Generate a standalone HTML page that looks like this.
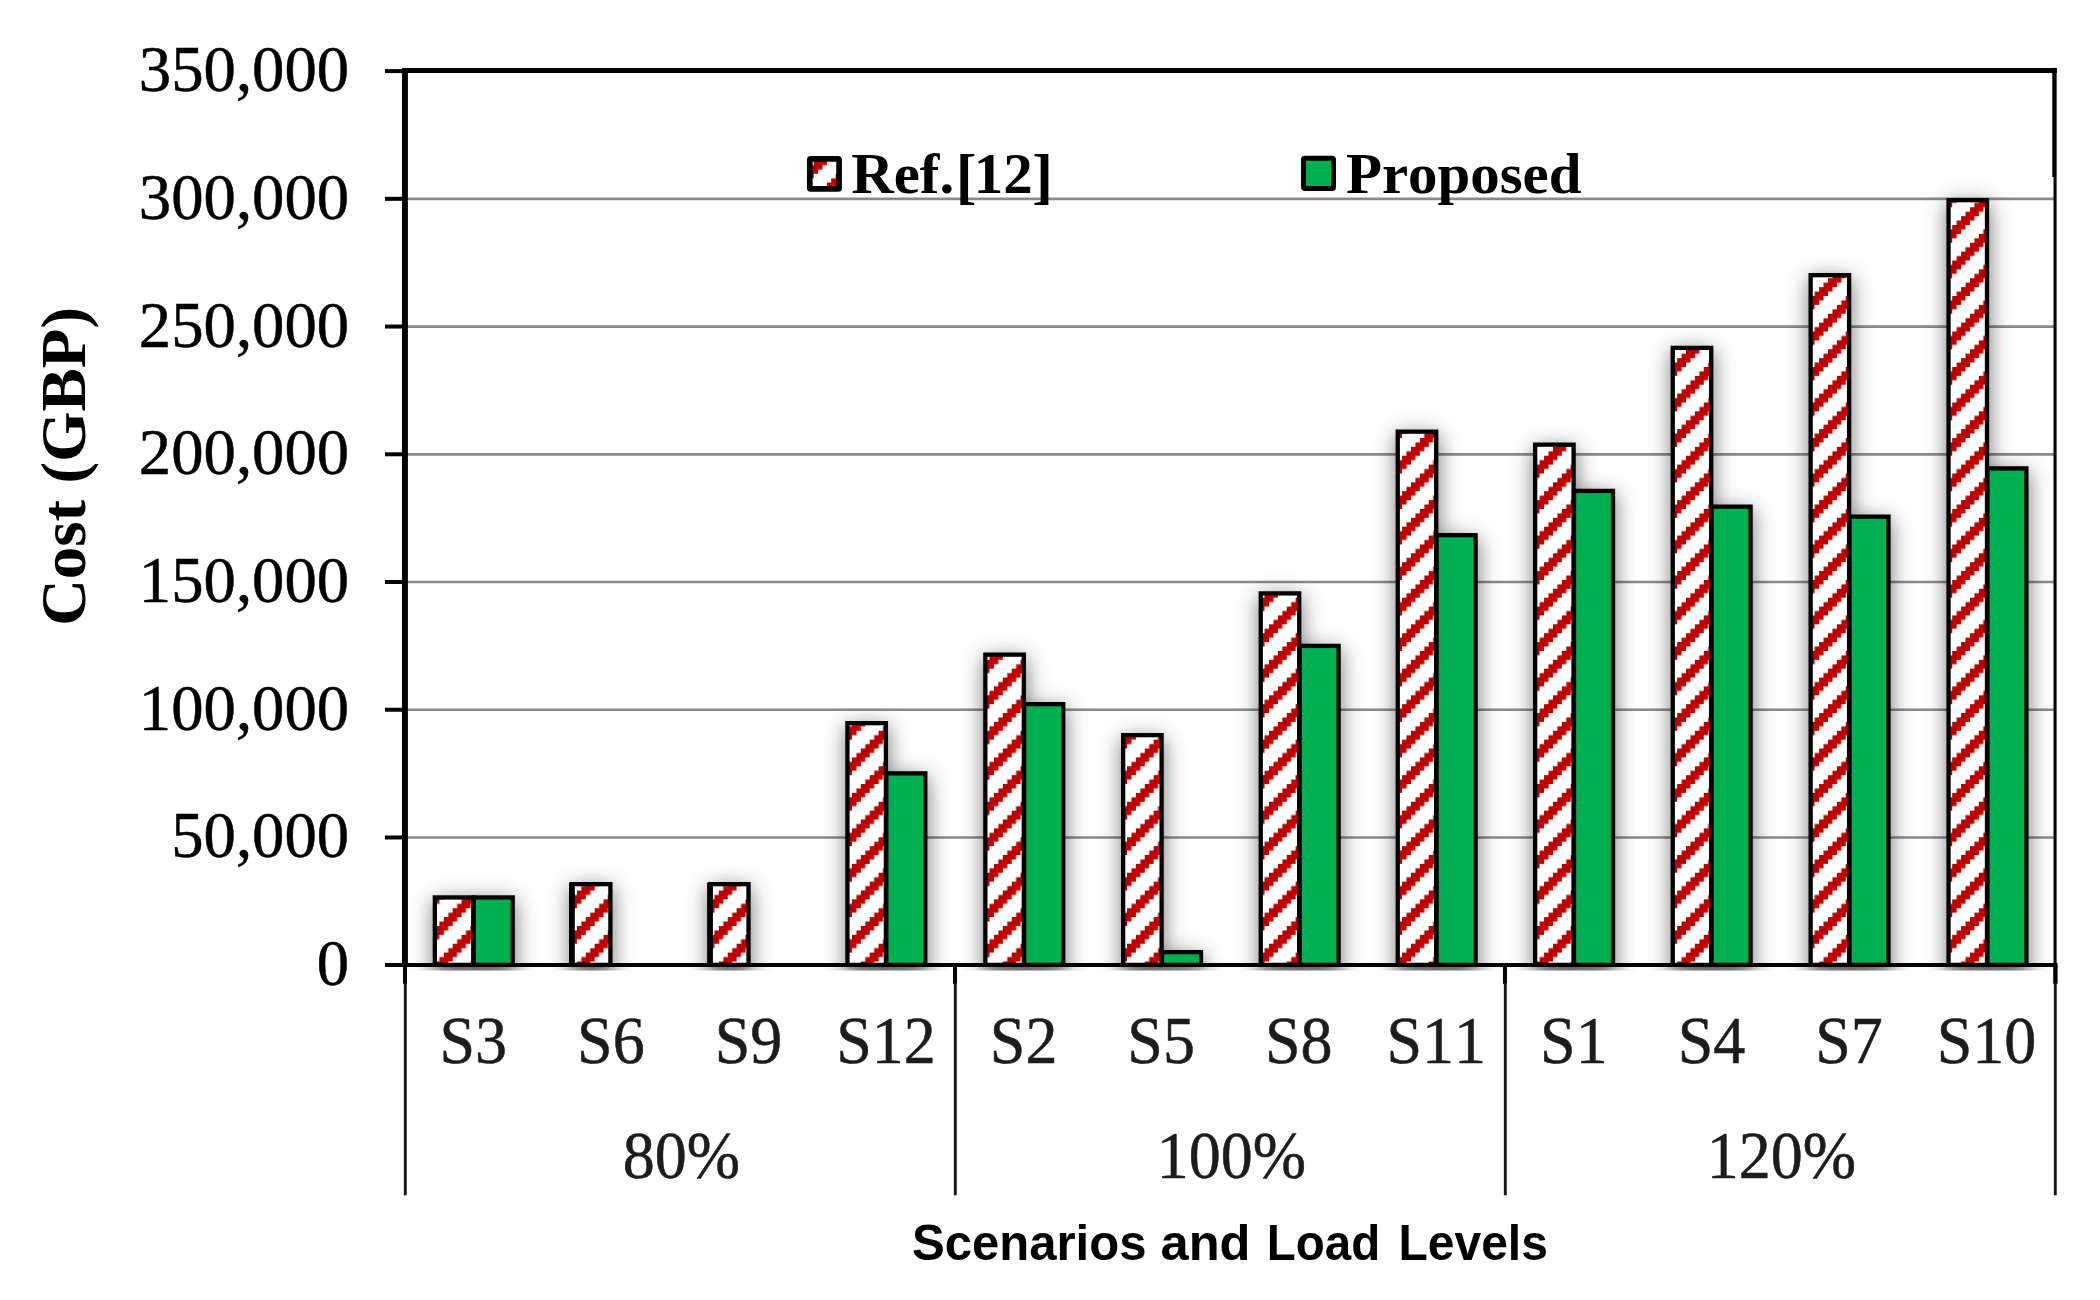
<!DOCTYPE html>
<html lang="en"><head><meta charset="utf-8"><title>Cost (GBP) by Scenarios and Load Levels</title>
<style>html,body{margin:0;padding:0;background:#fff}body{width:2100px;height:1300px;overflow:hidden}svg{display:block}text{font-family:"Liberation Serif","DejaVu Serif",serif;fill:#000;font-kerning:none}.ax{font-size:64px;stroke:#000;stroke-width:.5px}.cat{font-size:64px;fill:#1c1c1c;stroke:#1c1c1c;stroke-width:.5px}.lg{font-size:58px;font-weight:bold}.br{font-size:61.3px}.yt{font-size:64px;font-weight:bold}.xt{font-family:"Liberation Sans","DejaVu Sans",sans-serif;font-weight:bold;font-size:50px}</style></head><body>
<svg width="2100" height="1300" viewBox="0 0 2100 1300">
<defs>
<pattern id="hatch" patternUnits="userSpaceOnUse" x="0.150" y="3.200" width="35.492" height="35.492">
<rect x="0" y="0" width="35.492" height="35.492" fill="#fff"/>
<g fill="#c00000"><polygon points="-26.619,0.000 -26.619,4.436 -31.055,4.436 -31.055,8.873 -35.492,8.873 -35.492,13.309 -39.928,13.309 -39.928,17.746 -44.365,17.746 -44.365,22.182 -48.801,22.182 -48.801,26.619 -53.238,26.619 -53.238,31.055 -57.674,31.055 -57.674,35.492 -44.365,35.492 -44.365,31.055 -39.928,31.055 -39.928,26.619 -35.492,26.619 -35.492,22.182 -31.055,22.182 -31.055,17.746 -26.619,17.746 -26.619,13.309 -22.182,13.309 -22.182,8.873 -17.746,8.873 -17.746,4.436 -13.309,4.436 -13.309,0.000"/><polygon points="8.873,0.000 8.873,4.436 4.436,4.436 4.436,8.873 0.000,8.873 0.000,13.309 -4.436,13.309 -4.436,17.746 -8.873,17.746 -8.873,22.182 -13.309,22.182 -13.309,26.619 -17.746,26.619 -17.746,31.055 -22.182,31.055 -22.182,35.492 -8.873,35.492 -8.873,31.055 -4.436,31.055 -4.436,26.619 0.000,26.619 0.000,22.182 4.437,22.182 4.437,17.746 8.873,17.746 8.873,13.309 13.309,13.309 13.309,8.873 17.746,8.873 17.746,4.436 22.182,4.436 22.182,0.000"/><polygon points="44.365,0.000 44.365,4.436 39.928,4.436 39.928,8.873 35.492,8.873 35.492,13.309 31.055,13.309 31.055,17.746 26.619,17.746 26.619,22.182 22.182,22.182 22.182,26.619 17.746,26.619 17.746,31.055 13.309,31.055 13.309,35.492 26.619,35.492 26.619,31.055 31.055,31.055 31.055,26.619 35.492,26.619 35.492,22.182 39.928,22.182 39.928,17.746 44.365,17.746 44.365,13.309 48.801,13.309 48.801,8.873 53.238,8.873 53.238,4.436 57.674,4.436 57.674,0.000"/><polygon points="79.857,0.000 79.857,4.436 75.420,4.436 75.420,8.873 70.984,8.873 70.984,13.309 66.547,13.309 66.547,17.746 62.111,17.746 62.111,22.182 57.674,22.182 57.674,26.619 53.238,26.619 53.238,31.055 48.801,31.055 48.801,35.492 62.111,35.492 62.111,31.055 66.547,31.055 66.547,26.619 70.984,26.619 70.984,22.182 75.421,22.182 75.421,17.746 79.857,17.746 79.857,13.309 84.293,13.309 84.293,8.873 88.730,8.873 88.730,4.436 93.166,4.436 93.166,0.000"/></g>
</pattern>
<pattern id="hatchL" patternUnits="userSpaceOnUse" x="0.000" y="-1.200" width="35.000" height="35.000">
<rect x="0" y="0" width="35.000" height="35.000" fill="#fff"/>
<g fill="#c00000"><polygon points="-4.375,0.000 -4.375,4.375 -8.750,4.375 -8.750,8.750 -13.125,8.750 -13.125,13.125 -17.500,13.125 -17.500,17.500 -21.875,17.500 -21.875,21.875 -26.250,21.875 -26.250,26.250 -30.625,26.250 -30.625,30.625 -35.000,30.625 -35.000,35.000 -21.875,35.000 -21.875,30.625 -17.500,30.625 -17.500,26.250 -13.125,26.250 -13.125,21.875 -8.750,21.875 -8.750,17.500 -4.375,17.500 -4.375,13.125 0.000,13.125 0.000,8.750 4.375,8.750 4.375,4.375 8.750,4.375 8.750,0.000"/><polygon points="30.625,0.000 30.625,4.375 26.250,4.375 26.250,8.750 21.875,8.750 21.875,13.125 17.500,13.125 17.500,17.500 13.125,17.500 13.125,21.875 8.750,21.875 8.750,26.250 4.375,26.250 4.375,30.625 0.000,30.625 0.000,35.000 13.125,35.000 13.125,30.625 17.500,30.625 17.500,26.250 21.875,26.250 21.875,21.875 26.250,21.875 26.250,17.500 30.625,17.500 30.625,13.125 35.000,13.125 35.000,8.750 39.375,8.750 39.375,4.375 43.750,4.375 43.750,0.000"/><polygon points="65.625,0.000 65.625,4.375 61.250,4.375 61.250,8.750 56.875,8.750 56.875,13.125 52.500,13.125 52.500,17.500 48.125,17.500 48.125,21.875 43.750,21.875 43.750,26.250 39.375,26.250 39.375,30.625 35.000,30.625 35.000,35.000 48.125,35.000 48.125,30.625 52.500,30.625 52.500,26.250 56.875,26.250 56.875,21.875 61.250,21.875 61.250,17.500 65.625,17.500 65.625,13.125 70.000,13.125 70.000,8.750 74.375,8.750 74.375,4.375 78.750,4.375 78.750,0.000"/><polygon points="100.625,0.000 100.625,4.375 96.250,4.375 96.250,8.750 91.875,8.750 91.875,13.125 87.500,13.125 87.500,17.500 83.125,17.500 83.125,21.875 78.750,21.875 78.750,26.250 74.375,26.250 74.375,30.625 70.000,30.625 70.000,35.000 83.125,35.000 83.125,30.625 87.500,30.625 87.500,26.250 91.875,26.250 91.875,21.875 96.250,21.875 96.250,17.500 100.625,17.500 100.625,13.125 105.000,13.125 105.000,8.750 109.375,8.750 109.375,4.375 113.750,4.375 113.750,0.000"/></g>
</pattern>
<filter id="sh" x="-50%" y="-10%" width="200%" height="120%" filterUnits="objectBoundingBox" color-interpolation-filters="sRGB"><feGaussianBlur stdDeviation="10.5"/></filter>
<clipPath id="plotclip"><rect x="404.5" y="70.4" width="1650.0" height="900.2"/></clipPath>
</defs>
<rect width="2100" height="1300" fill="#fff"/>
<g stroke="#8a8a8a" stroke-width="2.6">
<line x1="404.5" y1="837.52" x2="2054.5" y2="837.52"/>
<line x1="404.5" y1="709.79" x2="2054.5" y2="709.79"/>
<line x1="404.5" y1="582.06" x2="2054.5" y2="582.06"/>
<line x1="404.5" y1="454.33" x2="2054.5" y2="454.33"/>
<line x1="404.5" y1="326.60" x2="2054.5" y2="326.60"/>
<line x1="404.5" y1="198.87" x2="2054.5" y2="198.87"/>
</g>
<g clip-path="url(#plotclip)"><g filter="url(#sh)" fill="#000" fill-opacity="0.53" transform="translate(0.5,5)">
<rect x="432.70" y="895.30" width="42.75" height="109.60"/>
<rect x="471.55" y="895.30" width="43.30" height="109.60"/>
<rect x="569.80" y="882.00" width="42.75" height="122.90"/>
<rect x="707.90" y="882.00" width="42.75" height="122.90"/>
<rect x="845.30" y="721.00" width="42.75" height="283.90"/>
<rect x="884.15" y="771.20" width="43.30" height="233.70"/>
<rect x="983.20" y="652.50" width="42.75" height="352.40"/>
<rect x="1022.05" y="702.00" width="43.30" height="302.90"/>
<rect x="1121.00" y="733.00" width="42.75" height="271.90"/>
<rect x="1159.85" y="950.00" width="43.30" height="54.90"/>
<rect x="1258.60" y="591.25" width="42.75" height="413.65"/>
<rect x="1297.45" y="643.75" width="43.30" height="361.15"/>
<rect x="1395.60" y="429.50" width="42.75" height="575.40"/>
<rect x="1434.45" y="533.00" width="43.30" height="471.90"/>
<rect x="1533.00" y="442.50" width="42.75" height="562.40"/>
<rect x="1571.85" y="488.75" width="43.30" height="516.15"/>
<rect x="1670.60" y="345.75" width="42.75" height="659.15"/>
<rect x="1709.45" y="504.50" width="43.30" height="500.40"/>
<rect x="1808.50" y="273.00" width="42.75" height="731.90"/>
<rect x="1847.35" y="514.50" width="43.30" height="490.40"/>
<rect x="1946.40" y="198.00" width="42.75" height="806.90"/>
<rect x="1985.25" y="466.25" width="43.30" height="538.65"/>
</g></g>
<g stroke="#000" stroke-width="4.3" stroke-linejoin="miter">
<rect x="434.85" y="897.45" width="38.45" height="67.45" fill="url(#hatch)"/>
<rect x="473.70" y="897.45" width="39.00" height="67.45" fill="#00b050"/>
<rect x="571.95" y="884.15" width="38.45" height="80.75" fill="url(#hatch)"/>
<rect x="569.00" y="882.60" width="5.80" height="82.30" fill="#000" stroke="none"/>
<rect x="710.05" y="884.15" width="38.45" height="80.75" fill="url(#hatch)"/>
<rect x="707.10" y="882.60" width="5.80" height="82.30" fill="#000" stroke="none"/>
<rect x="847.45" y="723.15" width="38.45" height="241.75" fill="url(#hatch)"/>
<rect x="886.30" y="773.35" width="39.00" height="191.55" fill="#00b050"/>
<rect x="985.35" y="654.65" width="38.45" height="310.25" fill="url(#hatch)"/>
<rect x="1024.20" y="704.15" width="39.00" height="260.75" fill="#00b050"/>
<rect x="1123.15" y="735.15" width="38.45" height="229.75" fill="url(#hatch)"/>
<rect x="1162.00" y="952.15" width="39.00" height="12.75" fill="#00b050"/>
<rect x="1260.75" y="593.40" width="38.45" height="371.50" fill="url(#hatch)"/>
<rect x="1299.60" y="645.90" width="39.00" height="319.00" fill="#00b050"/>
<rect x="1397.75" y="431.65" width="38.45" height="533.25" fill="url(#hatch)"/>
<rect x="1436.60" y="535.15" width="39.00" height="429.75" fill="#00b050"/>
<rect x="1535.15" y="444.65" width="38.45" height="520.25" fill="url(#hatch)"/>
<rect x="1574.00" y="490.90" width="39.00" height="474.00" fill="#00b050"/>
<rect x="1672.75" y="347.90" width="38.45" height="617.00" fill="url(#hatch)"/>
<rect x="1711.60" y="506.65" width="39.00" height="458.25" fill="#00b050"/>
<rect x="1810.65" y="275.15" width="38.45" height="689.75" fill="url(#hatch)"/>
<rect x="1849.50" y="516.65" width="39.00" height="448.25" fill="#00b050"/>
<rect x="1948.55" y="200.15" width="38.45" height="764.75" fill="url(#hatch)"/>
<rect x="1987.40" y="468.40" width="39.00" height="496.50" fill="#00b050"/>
</g>
<g stroke="#000" fill="none">
<line x1="403.9" y1="70.4" x2="2056.8" y2="70.4" stroke-width="5"/>
<line x1="404.95" y1="67.9" x2="404.95" y2="964.9" stroke-width="5.9"/>
<line x1="405" y1="964.9" x2="405" y2="983.9" stroke-width="4"/>
<line x1="385" y1="964.9" x2="2057.4" y2="964.9" stroke-width="4"/>
<line x1="385" y1="837.47" x2="403" y2="837.47" stroke-width="4"/>
<line x1="385" y1="709.74" x2="403" y2="709.74" stroke-width="4"/>
<line x1="385" y1="582.01" x2="403" y2="582.01" stroke-width="4"/>
<line x1="385" y1="454.28" x2="403" y2="454.28" stroke-width="4"/>
<line x1="385" y1="326.55" x2="403" y2="326.55" stroke-width="4"/>
<line x1="385" y1="198.82" x2="403" y2="198.82" stroke-width="4"/>
<line x1="385" y1="71.09" x2="403" y2="71.09" stroke-width="4"/>
<line x1="2054.45" y1="67.9" x2="2054.45" y2="177" stroke-width="4.4"/>
<line x1="2055.05" y1="177" x2="2055.05" y2="964.9" stroke-width="3.1"/>
<line x1="955.0" y1="964.9" x2="955.0" y2="983.9" stroke-width="4.0"/>
<line x1="1505.0" y1="964.9" x2="1505.0" y2="983.9" stroke-width="4.0"/>
<line x1="2055.4" y1="964.9" x2="2055.4" y2="983.9" stroke-width="4.4"/>
<line x1="405.3" y1="983.5" x2="405.3" y2="1195.3" stroke-width="2.9" stroke="#151515"/>
<line x1="955.3" y1="983.5" x2="955.3" y2="1195.3" stroke-width="2.9" stroke="#151515"/>
<line x1="1505.3" y1="983.5" x2="1505.3" y2="1195.3" stroke-width="2.9" stroke="#151515"/>
<line x1="2055.3" y1="983.5" x2="2055.3" y2="1195.3" stroke-width="2.9" stroke="#151515"/>
</g>
<text class="ax" transform="translate(349.10,985.20) scale(1.0110,1.0320)" text-anchor="end">0</text>
<text class="ax" transform="translate(349.10,857.47) scale(1.0110,1.0320)" text-anchor="end">50,000</text>
<text class="ax" transform="translate(349.10,729.74) scale(1.0110,1.0320)" text-anchor="end">100,000</text>
<text class="ax" transform="translate(349.10,602.01) scale(1.0110,1.0320)" text-anchor="end">150,000</text>
<text class="ax" transform="translate(349.10,474.28) scale(1.0110,1.0320)" text-anchor="end">200,000</text>
<text class="ax" transform="translate(349.10,346.55) scale(1.0110,1.0320)" text-anchor="end">250,000</text>
<text class="ax" transform="translate(349.10,218.82) scale(1.0110,1.0320)" text-anchor="end">300,000</text>
<text class="ax" transform="translate(349.10,91.09) scale(1.0110,1.0320)" text-anchor="end">350,000</text>
<text class="cat" transform="translate(473.30,1062.60) scale(1.0000,1.0500)" text-anchor="middle">S3</text>
<text class="cat" transform="translate(610.87,1062.60) scale(1.0000,1.0500)" text-anchor="middle">S6</text>
<text class="cat" transform="translate(748.44,1062.60) scale(1.0000,1.0500)" text-anchor="middle">S9</text>
<text class="cat" transform="translate(886.01,1062.60) scale(1.0000,1.0500)" text-anchor="middle">S12</text>
<text class="cat" transform="translate(1023.58,1062.60) scale(1.0000,1.0500)" text-anchor="middle">S2</text>
<text class="cat" transform="translate(1161.15,1062.60) scale(1.0000,1.0500)" text-anchor="middle">S5</text>
<text class="cat" transform="translate(1298.72,1062.60) scale(1.0000,1.0500)" text-anchor="middle">S8</text>
<text class="cat" transform="translate(1436.29,1062.60) scale(1.0000,1.0500)" text-anchor="middle">S11</text>
<text class="cat" transform="translate(1573.86,1062.60) scale(1.0000,1.0500)" text-anchor="middle">S1</text>
<text class="cat" transform="translate(1711.43,1062.60) scale(1.0000,1.0500)" text-anchor="middle">S4</text>
<text class="cat" transform="translate(1849.00,1062.60) scale(1.0000,1.0500)" text-anchor="middle">S7</text>
<text class="cat" transform="translate(1986.57,1062.60) scale(1.0000,1.0500)" text-anchor="middle">S10</text>
<text class="cat" transform="translate(681.40,1178.20) scale(1.0000,1.0450)" text-anchor="middle">80%</text>
<text class="cat" transform="translate(1231.40,1178.20) scale(1.0000,1.0450)" text-anchor="middle">100%</text>
<text class="cat" transform="translate(1781.40,1178.20) scale(1.0000,1.0450)" text-anchor="middle">120%</text>
<rect x="809.8" y="158.9" width="29.3" height="30" rx="1" ry="1" fill="url(#hatchL)" stroke="#000" stroke-width="5.7"/>
<text class="lg" transform="translate(851.20,192.70) scale(1.0150,1)">Ref.<tspan class="br" x="102.91" dy="4">[</tspan><tspan x="120.76" dy="-4">12</tspan><tspan class="br" x="178.26" dy="4">]</tspan></text>
<rect x="1303.5" y="158.3" width="30" height="30.2" rx="1.5" ry="1.5" fill="#00b050" stroke="#000" stroke-width="5"/>
<text class="lg" transform="translate(1346.00,193.00) scale(1.0150,1.0000)" text-anchor="start">Proposed</text>
<text class="yt" transform="translate(85,466.5) rotate(-90) scale(1.014,1.0)" text-anchor="middle">Cost (GBP)</text>
<text class="xt" y="1260"><tspan x="912.0" textLength="234.5" lengthAdjust="spacingAndGlyphs">Scenarios</tspan> <tspan x="1160.5" textLength="90.0" lengthAdjust="spacingAndGlyphs">and</tspan> <tspan x="1266.7" textLength="113.5" lengthAdjust="spacingAndGlyphs">Load</tspan> <tspan x="1398.4" textLength="149.5" lengthAdjust="spacingAndGlyphs">Levels</tspan></text>
</svg></body></html>
